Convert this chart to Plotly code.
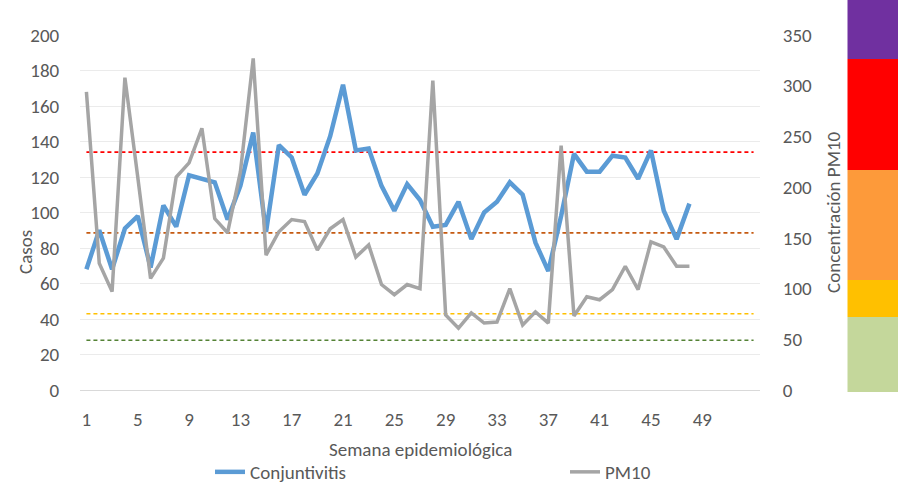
import plotly.graph_objects as go

weeks = list(range(1, 49))
conjuntivitis = [68, 90, 68, 91, 98, 69, 104, 92, 121, 119, 117, 96, 115, 145, 89, 138,
                 131, 110, 122, 143, 172, 135, 136, 115, 101, 116, 107, 92, 93, 106, 85,
                 100, 106, 117, 110, 83, 67, 98, 133, 123, 123, 132, 131, 119, 135, 101, 85, 105]
pm10 = [294, 125, 97, 308, 210, 110, 130, 210, 224, 258, 169, 155, 215, 327, 133, 156,
        168, 166, 138, 159, 168, 131, 143, 104, 94, 104, 100, 305, 74, 61, 76, 66,
        67, 100, 64, 77, 66, 241, 73, 92, 89, 99, 122, 99, 146, 141, 122, 122]
# reference thresholds (left-axis units)
ref_levels = [134, 88.5, 43, 28]
ref_colors = ["#FF0000", "#C55A11", "#FFC000", "#548235"]
ref_weeks = [1, 53]
x_ticks = list(range(1, 50, 4))
left_ticks = list(range(0, 201, 20))
right_ticks = list(range(0, 351, 50))

FONT = "Carlito, Lato, 'Open Sans', sans-serif"
TXT = "#595959"

fig = go.Figure()

for lvl, col in zip(ref_levels, ref_colors):
    fig.add_trace(go.Scatter(x=ref_weeks, y=[lvl, lvl], mode="lines",
                             line=dict(color=col, width=1.6, dash="4px,3px"),
                             showlegend=False, hoverinfo="skip", yaxis="y"))

fig.add_trace(go.Scatter(x=weeks, y=conjuntivitis, mode="lines", name="Conjuntivitis",
                         line=dict(color="#5B9BD5", width=4.5), yaxis="y", legend="legend"))
fig.add_trace(go.Scatter(x=weeks, y=pm10, mode="lines", name="PM10",
                         line=dict(color="#A5A5A5", width=3.5), yaxis="y2", legend="legend2"))

# colour scale bar on the right
L, R = 80, 760
T, B = 35, 390
def px(xp):
    return (xp - L) / (R - L)
def py(yp):
    return (B - yp) / (B - T)

bands = [(0, 59, "#7030A0"), (59, 170, "#FF0000"), (170, 280, "#FD9A3A"),
         (280, 317, "#FFC000"), (317, 392, "#C4D79B")]
for top, bot, col in bands:
    fig.add_shape(type="rect", xref="paper", yref="paper",
                  x0=px(847.5), x1=px(899), y0=py(bot), y1=py(top),
                  fillcolor=col, line=dict(width=0), layer="above")

fig.update_layout(
    width=898, height=484,
    margin=dict(l=L, r=898 - R, t=T, b=484 - B, autoexpand=False),
    paper_bgcolor="white", plot_bgcolor="white",
    font=dict(family=FONT, size=19, color=TXT),
    xaxis=dict(range=[0.5, 53.5], tickmode="array", tickvals=x_ticks,
               showgrid=False, zeroline=False, showline=True, linecolor="#D9D9D9", linewidth=1.3,
               ticks="outside", ticklen=12, tickcolor="rgba(0,0,0,0)",
               tickfont=dict(size=19, color=TXT)),
    yaxis=dict(range=[0, 200], tickmode="array", tickvals=left_ticks,
               showgrid=True, gridcolor="#EBEBEB", gridwidth=1.2, zeroline=False,
               ticks="outside", ticklen=16, tickcolor="rgba(0,0,0,0)",
               tickfont=dict(size=19, color=TXT)),
    yaxis2=dict(range=[0, 350], tickmode="array", tickvals=right_ticks, overlaying="y",
                side="right", showgrid=False, zeroline=False,
                ticks="outside", ticklen=18, tickcolor="rgba(0,0,0,0)",
                tickfont=dict(size=19, color=TXT)),
    legend=dict(orientation="h", x=px(210), y=py(472), xanchor="left", yanchor="middle",
                font=dict(size=19, color=TXT), bgcolor="rgba(0,0,0,0)"),
    legend2=dict(orientation="h", x=px(565), y=py(472), xanchor="left", yanchor="middle",
                 font=dict(size=19, color=TXT), bgcolor="rgba(0,0,0,0)"),
    annotations=[
        dict(text="Casos", xref="paper", yref="paper", x=px(25), y=py(252),
             xanchor="center", yanchor="middle",
             showarrow=False, textangle=-90, font=dict(size=19, color=TXT)),
        dict(text="Concentración PM10", xref="paper", yref="paper", x=px(833), y=py(212),
             xanchor="center", yanchor="middle",
             showarrow=False, textangle=-90, font=dict(size=19, color=TXT)),
        dict(text="Semana epidemiológica", xref="paper", yref="paper", x=px(420), y=py(449),
             xanchor="center", yanchor="middle",
             showarrow=False, font=dict(size=19, color=TXT)),
    ],
)

fig.write_html("out.html", config={"displayModeBar": False},
               post_script="document.body.style.margin='0';document.body.style.overflow='hidden';")
